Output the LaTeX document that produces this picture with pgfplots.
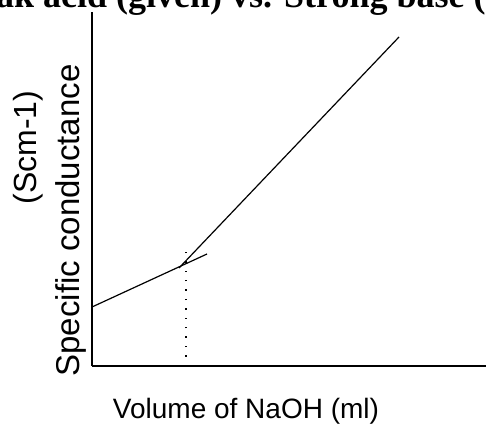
\documentclass[border=0pt]{standalone}
\usepackage{fontspec}
\setmainfont{Liberation Serif}
\newfontfamily\arialfont{Liberation Sans}
\usepackage{pgfplots}
\pgfplotsset{compat=1.18}
\begin{document}
\begin{tikzpicture}[x=1pt,y=1pt]
\begin{axis}[
  at={(92pt,62pt)}, anchor=origin,
  scale only axis, width=394pt, height=354pt,
  xmin=0, xmax=394, ymin=0, ymax=354,
  axis x line=bottom, axis y line=left,
  axis line style={-, line width=1.8pt, black},
  xtick=\empty, ytick=\empty,
  clip=false,
]
\addplot[black, line width=1.2pt] coordinates {(0,59) (115,112)};
\addplot[black, line width=1.2pt] coordinates {(87,98) (307,329)};
\addplot[black, line width=1.4pt, dash pattern=on 1.4pt off 8pt] coordinates {(94,0) (94,119)};
\end{axis}
\node[anchor=base west, inner sep=0pt, font=\fontsize{36}{40}\selectfont\bfseries] at (14,420.5) {\llap{Wea}k acid (given) vs. Strong base (standard)};
\node[anchor=base, inner sep=0pt, font=\arialfont\fontsize{28}{32}\selectfont] at (246,10) {Volume of NaOH (ml)};
\node[anchor=base, rotate=90, inner sep=0pt, font=\arialfont\fontsize{33}{36}\selectfont] at (79,207.5) {Specific conductance};
\node[anchor=base, rotate=90, inner sep=0pt, font=\arialfont\fontsize{32}{36}\selectfont] at (36,280.5) {(Scm-1)};
\pgfresetboundingbox
\useasboundingbox (0,0) rectangle (486,428);
\end{tikzpicture}
\end{document}
